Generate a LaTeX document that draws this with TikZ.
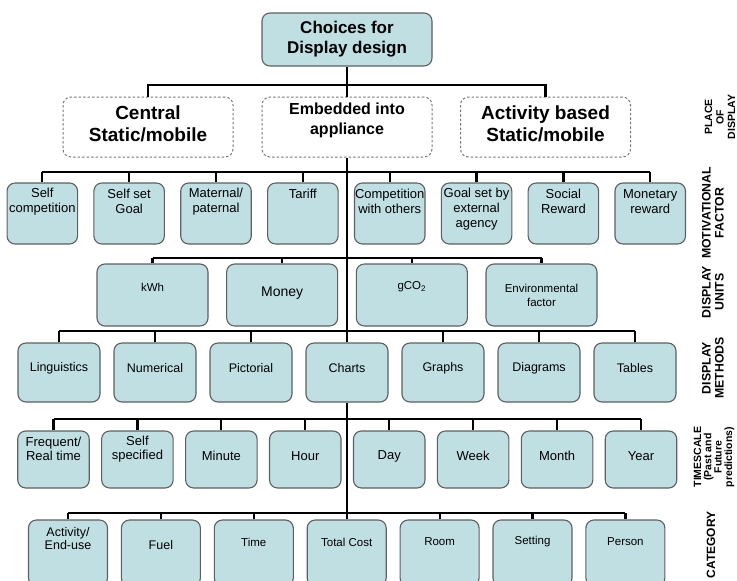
\documentclass[tikz,border=0pt]{standalone}
\usepackage{fontspec}
\setmainfont{Liberation Sans}
\definecolor{boxfill}{RGB}{191,223,227}
\definecolor{boxline}{RGB}{95,95,95}
\definecolor{dashline}{RGB}{120,120,120}
\begin{document}
\begin{tikzpicture}[x=1pt,y=-1pt,
  conn/.style={draw=black, line width=2.2pt},
  bbox/.style={draw=boxline, line width=1.1pt, fill=boxfill, rounded corners=8pt, inner sep=0pt},
  dbox/.style={draw=dashline, line width=1pt, dash pattern=on 2.5pt off 2pt, fill=white, rounded corners=8pt, inner sep=0pt, minimum width=170, minimum height=60},
  lbl/.style={inner sep=0pt, align=center},
  side/.style={inner sep=0pt, align=center, rotate=90},
]
\useasboundingbox (0,0) rectangle (737,581);
\clip (0,0) rectangle (737,581);

% bar coordinates
\coordinate (b1) at (347,85);
\coordinate (b2) at (347,172);
\coordinate (b3) at (347,258);
\coordinate (b4) at (347,331);
\coordinate (b5) at (347,419);
\coordinate (b6) at (347,513);

% top
\node[bbox, minimum width=170, minimum height=53, align=center, font=\fontsize{17}{20}\selectfont\bfseries] (top) at (347,39.5) {Choices for\\Display design};

% place of display
\node[dbox] (pc) at (148,127) {};
\node[dbox] (pe) at (347,127) {};
\node[dbox] (pa) at (545.5,127) {};
\node[lbl, font=\fontsize{19}{22}\selectfont\bfseries] (pct) at (148,124) {Central\\Static/mobile};
\node[lbl, font=\fontsize{16}{20}\selectfont\bfseries] (pet) at (347,120) {Embedded into\\appliance};
\node[lbl, font=\fontsize{19}{22}\selectfont\bfseries] (pat) at (545.5,124) {Activity based\\Static/mobile};
\draw[conn] (top.south) -- (b1);
\draw[conn] (pc.north) -- (pc.north |- b1) -- (pa.north |- b1) -- (pa.north);
\draw[conn] (b1) -- (pe.north);

% motivational factor
\foreach \i/\ty/\t in {1/201.5/{Self\\competition}, 2/201.5/{Self set\\Goal}, 3/201.5/{Maternal/\\paternal}, 4/194/{Tariff}, 5/201.5/{Competition\\with others}, 6/209/{Goal set by\\external\\agency}, 7/201.5/{Social\\Reward}, 8/201.5/{Monetary\\reward}} {
  \pgfmathsetmacro\cx{42.3+86.85*(\i-1)}
  \node[bbox, minimum width=70.5, minimum height=61] (m\i) at (\cx,213.5) {};
  \node[lbl, font=\fontsize{13}{15}\selectfont] (m\i t) at (\cx,\ty) {\t};
  \draw[conn] (m\i.north) -- (m\i.north |- b2);
}
\draw[conn] (m1.north |- b2) -- (m8.north |- b2);

% display units
\foreach \i/\ty/\fs/\t in {1/287/11.5/{kWh}, 2/293/14/{Money}, 3/287/11.5/{gCO\textsubscript{2}}, 4/295/11.5/{Environmental\\factor}} {
  \pgfmathsetmacro\cx{152.5+129.67*(\i-1)}
  \node[bbox, minimum width=111, minimum height=62] (u\i) at (\cx,295) {};
  \node[lbl, font=\fontsize{\fs}{14}\selectfont] (u\i t) at (\cx,\ty) {\t};
  \draw[conn] (u\i.north) -- (u\i.north |- b3);
}
\draw[conn] (u1.north |- b3) -- (u4.north |- b3);

% display methods
\foreach \i/\t in {1/Linguistics, 2/Numerical, 3/Pictorial, 4/Charts, 5/Graphs, 6/Diagrams, 7/Tables} {
  \pgfmathsetmacro\cx{59+96*(\i-1)}
  \node[bbox, minimum width=82, minimum height=59] (d\i) at (\cx,372.5) {};
  \node[lbl, font=\fontsize{12.5}{15}\selectfont] (d\i t) at (\cx,368) {\t};
  \draw[conn] (d\i.north) -- (d\i.north |- b4);
}
\draw[conn] (d1.north |- b4) -- (d7.north |- b4);
\draw[conn] (pe.south) -- (b4);

% timescale
\foreach \i/\ty/\t in {1/449/{Frequent/\\Real time}, 2/449/{Self\\specified}, 3/456/{Minute}, 4/456/{Hour}, 5/456/{Day}, 6/456/{Week}, 7/456/{Month}, 8/456/{Year}} {
  \pgfmathsetmacro\cx{53.5+83.93*(\i-1)}
  \node[bbox, minimum width=71.5, minimum height=57] (t\i) at (\cx,459.5) {};
  \node[lbl, font=\fontsize{13}{14.5}\selectfont] (t\i t) at (\cx,\ty) {\t};
  \draw[conn] (t\i.north) -- (t\i.north |- b5);
}
\draw[conn] (t1.north |- b5) -- (t8.north |- b5);

% category
\foreach \i/\ty/\fs/\t in {1/538.5/12.5/{Activity/\\End-use}, 2/545/12.5/{Fuel}, 3/542/11.5/{Time}, 4/542/11.5/{Total Cost}, 5/542/11.5/{Room}, 6/542/11.5/{Setting}, 7/542/11.5/{Person}} {
  \pgfmathsetmacro\cx{68+92.9*(\i-1)}
  \node[bbox, minimum width=79, minimum height=66] (c\i) at (\cx,553) {};
  \node[lbl, font=\fontsize{\fs}{13.5}\selectfont] (c\i t) at (\cx,\ty) {\t};
  \draw[conn] (c\i.north) -- (c\i.north |- b6);
}
\draw[conn] (c1.north |- b6) -- (c7.north |- b6);
\draw[conn] (d4.south) -- (b6);

% side labels
\node[side, font=\fontsize{10.5}{11.5}\selectfont\bfseries] (sp) at (720,117) {PLACE\\OF\\DISPLAY};
\node[side, font=\fontsize{12.3}{13}\selectfont\bfseries] (sm) at (713,213) {MOTIVATIONAL\\FACTOR};
\node[side, font=\fontsize{12.3}{13}\selectfont\bfseries] (su) at (713,292) {DISPLAY\\UNITS};
\node[side, font=\fontsize{12.3}{13}\selectfont\bfseries] (sd) at (713,368) {DISPLAY\\METHODS};
\node[side, font=\fontsize{10.5}{10.3}\selectfont\bfseries] (st) at (714,457) {TIMESCALE\\(Past and\\Future\\predictions)};
\node[side, font=\fontsize{12}{13}\selectfont\bfseries] (sc) at (711,545) {CATEGORY};
\end{tikzpicture}
\end{document}
